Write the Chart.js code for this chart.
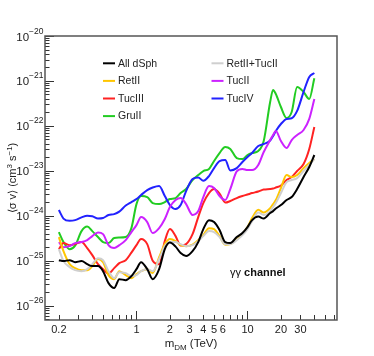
<!DOCTYPE html>
<html>
<head>
<meta charset="utf-8">
<script src="https://cdn.jsdelivr.net/npm/chart.js@4/dist/chart.umd.min.js"></script>
<style>
  body { margin: 0; background: #fff; }
  canvas { display: block; }
</style>
</head>
<body>
<canvas id="limits" width="374" height="356"></canvas>
<script>
// DM mass grid (TeV), shared by all curves
const masses = [0.2, 0.22, 0.25, 0.28, 0.32, 0.36, 0.4, 0.45, 0.5, 0.56,
  0.63, 0.7, 0.8, 0.9, 1.0, 1.1, 1.25, 1.4, 1.6, 1.8,
  2.0, 2.25, 2.5, 2.8, 3.2, 3.6, 4.0, 4.5, 5.0, 5.6,
  6.3, 7.0, 8.0, 9.0, 10, 11, 12.5, 14, 16, 17,
  18, 20, 22.5, 25, 28, 32, 36, 40];

// <sigma v> upper limits (cm^3 s^-1)
const allDsph = [1.03e-25, 9.8e-26, 1.03e-25, 9.3e-26, 9.8e-26, 8.4e-26, 7.6e-26, 7.6e-26, 5.86e-26, 3.17e-26,
  2.46e-26, 3.89e-26, 3.7e-26, 4.54e-26, 6.5e-26, 9.3e-26, 6.5e-26, 3.89e-26, 6.5e-26, 1.81e-25,
  2.53e-25, 2.06e-25, 1.48e-25, 1.27e-25, 1.64e-25, 2.6e-25, 5.06e-25, 8.0e-25, 7.24e-25, 4.81e-25,
  2.6e-25, 2.47e-25, 3.36e-25, 4.12e-25, 5.6e-25, 8.0e-25, 9.6e-25, 8.67e-25, 1.15e-24, 1.27e-24,
  1.45e-24, 1.73e-24, 2.24e-24, 2.61e-24, 3.94e-24, 7.28e-24, 1.22e-23, 2.25e-23];
const retTuc = [1.81e-25, 9.8e-26, 7.2e-26, 6.17e-26, 5.86e-26, 6.5e-26, 8.4e-26, 1.14e-25, 1.03e-25, 5.86e-26,
  4.1e-26, 5.57e-26, 5.3e-26, 4.54e-26, 4.78e-26, 5.86e-26, 6.5e-26, 5.86e-26, 1.09e-25, 2.11e-25,
  2.6e-25, 2.6e-25, 2.34e-25, 2.11e-25, 2.22e-25, 2.73e-25, 3.53e-25, 4.56e-25, 4.33e-25, 3.36e-25,
  2.34e-25, 2.34e-25, 2.88e-25, 3.72e-25, 5.06e-25, 7.62e-25, 1.18e-24, 1.04e-24, 1.27e-24, 1.56e-24,
  1.92e-24, 3.2e-24, 5.63e-24, 6.24e-24, 6.9e-24, 9.9e-24, 1.35e-23, 1.83e-23];
const retII = [3.36e-25, 1.64e-25, 8.4e-26, 6.84e-26, 6.17e-26, 6.17e-26, 7.6e-26, 1.09e-25, 9.3e-26, 4.78e-26,
  3.89e-26, 5.86e-26, 4.78e-26, 4.1e-26, 5.02e-26, 5.86e-26, 6.5e-26, 5.3e-26, 1.2e-25, 2.34e-25,
  3.03e-25, 2.73e-25, 2.22e-25, 2.11e-25, 2.28e-25, 2.88e-25, 3.72e-25, 5.3e-25, 5.06e-25, 3.53e-25,
  2.28e-25, 2.34e-25, 3.03e-25, 3.9e-25, 5.6e-25, 8.9e-25, 1.37e-24, 1.18e-24, 1.48e-24, 1.82e-24,
  2.24e-24, 4.14e-24, 8.06e-24, 7.28e-24, 8.06e-24, 1.15e-23, 1.49e-23, 1.83e-23];
const tucII = [2.6e-25, 2.0e-25, 2.11e-25, 2.47e-25, 2.6e-25, 2.88e-25, 3.53e-25, 4.27e-25, 3.9e-25, 2.22e-25,
  1.91e-25, 2.22e-25, 2.88e-25, 4.33e-25, 6.2e-25, 9.35e-25, 7.24e-25, 4.12e-25, 5.3e-25, 8.45e-25,
  1.56e-24, 2.24e-24, 2.48e-24, 1.82e-24, 1.04e-24, 1.27e-24, 2.61e-24, 4.58e-24, 4.14e-24, 2.75e-24,
  2.24e-24, 3.94e-24, 9.7e-24, 1.1e-23, 1.04e-23, 1.04e-23, 1.35e-23, 2.62e-23, 4.85e-23, 6.27e-23,
  7.7e-23, 4.61e-23, 3.22e-23, 4.85e-23, 6.27e-23, 8.1e-23, 1.43e-22, 3.97e-22];
const tucIII = [1.81e-25, 2.47e-25, 2.22e-25, 2.34e-25, 2.6e-25, 1.91e-25, 1.33e-25, 8.4e-26, 6.5e-26, 5.16e-26,
  6.84e-26, 8.83e-26, 1.03e-25, 1.51e-25, 2.22e-25, 3.03e-25, 2.34e-25, 1.0e-25, 8.4e-26, 2.73e-25,
  5.06e-25, 3.53e-25, 2.17e-25, 2.34e-25, 3.9e-25, 9.35e-25, 1.92e-24, 3.2e-24, 3.94e-24, 3.12e-24,
  1.97e-24, 2.13e-24, 2.48e-24, 2.75e-24, 2.97e-24, 3.2e-24, 3.46e-24, 3.83e-24, 3.94e-24, 4.04e-24,
  4.25e-24, 4.7e-24, 6.24e-24, 7.28e-24, 9.9e-24, 1.42e-23, 3.06e-23, 9.46e-23];
const tucIV = [1.34e-24, 8.67e-25, 7.74e-25, 8.0e-25, 9.2e-25, 1.0e-24, 9.8e-25, 8.67e-25, 8.9e-25, 1.04e-24,
  1.09e-24, 1.24e-24, 1.69e-24, 2.02e-24, 2.36e-24, 2.89e-24, 3.73e-24, 4.25e-24, 4.58e-24, 2.75e-24,
  1.73e-24, 1.41e-24, 1.73e-24, 3.55e-24, 6.56e-24, 7.1e-24, 6.02e-24, 7.66e-24, 1.15e-23, 1.65e-23,
  1.74e-23, 1.02e-23, 1.15e-23, 1.57e-23, 2.03e-23, 2.49e-23, 3.57e-23, 3.95e-23, 4.73e-23, 5.96e-23,
  7.7e-23, 1.1e-22, 1.43e-22, 1.48e-22, 2.15e-22, 5.7e-22, 1.23e-21, 1.5e-21];
const gruII = [4.33e-25, 2.6e-25, 1.81e-25, 2.17e-25, 4.56e-25, 5.75e-25, 4.56e-25, 3.36e-25, 2.6e-25, 2.47e-25,
  3.19e-25, 3.27e-25, 3.36e-25, 5.3e-25, 1.82e-24, 2.75e-24, 2.61e-24, 1.92e-24, 1.82e-24, 2.02e-24,
  2.36e-24, 2.48e-24, 3.2e-24, 3.94e-24, 6.24e-24, 8.06e-24, 9.9e-24, 1.1e-23, 1.65e-23, 2.49e-23,
  3.39e-23, 3.06e-23, 1.93e-23, 1.83e-23, 2.25e-23, 2.49e-23, 2.76e-23, 4.61e-23, 3.4e-22, 6.3e-22,
  5.13e-22, 2.63e-22, 1.5e-22, 2.04e-22, 7.35e-22, 5.69e-22, 3.97e-22, 1.15e-21];

// legend order (row by row, two columns)
const seriesNames = ["All dSph", "RetII+TucII", "RetII", "TucII", "TucIII", "TucIV", "GruII"];
const seriesValues = [allDsph, retTuc, retII, tucII, tucIII, tucIV, gruII];
const seriesColors = ["#000000", "#cfcfcf", "#ffc600", "#cc22ff", "#ff2222", "#2222ff", "#22cc22"];

// axis ticks
const xTickLabels = [0.2, 1, 2, 3, 4, 5, 6, 10, 20, 30];
const xMinorTicks = [0.3, 0.4, 0.5, 0.6, 0.7, 0.8, 0.9, 7, 8, 9, 40, 50, 60];
const xDecades = [1, 10];
const yExponents = [-26, -25, -24, -23, -22, -21, -20];

const FONT = '"Liberation Sans", Arial, Helvetica, sans-serif';

// draw text pieces one after another, sizes/offsets per piece
function textParts(ctx, parts, x, y, measureOnly) {
  let w = 0;
  parts.forEach((p) => {
    ctx.font = (p.bold ? "bold " : "") + p.size + "px " + FONT;
    if (!measureOnly) ctx.fillText(p.t, x + w, y + (p.dy || 0));
    w += ctx.measureText(p.t).width;
  });
  return w;
}

const rootStyle = {
  id: "rootStyle",
  afterDraw(chart) {
    const ctx = chart.ctx;
    const { left, right, top, bottom } = chart.chartArea;
    const xs = chart.scales.x;
    const ys = chart.scales.y;
    ctx.save();

    // ticks pointing inside the frame
    ctx.strokeStyle = "#333";
    ctx.lineWidth = 1;
    ctx.beginPath();
    yExponents.forEach((e) => {
      const y = Math.round(ys.getPixelForValue(Math.pow(10, e))) + 0.5;
      ctx.moveTo(left, y);
      ctx.lineTo(left + 9, y);
    });
    for (let e = -27; e < -20; e++) {
      for (let k = 2; k <= 9; k++) {
        const v = k * Math.pow(10, e);
        if (v < ys.min || v > ys.max) continue;
        const y = Math.round(ys.getPixelForValue(v)) + 0.5;
        ctx.moveTo(left, y);
        ctx.lineTo(left + 4.5, y);
      }
    }
    xTickLabels.concat(xMinorTicks).forEach((v) => {
      const x = Math.round(xs.getPixelForValue(v)) + 0.5;
      const len = xDecades.includes(v) ? 9 : 5;
      ctx.moveTo(x, bottom);
      ctx.lineTo(x, bottom - len);
    });
    ctx.stroke();

    // frame
    ctx.strokeStyle = "#555";
    ctx.lineWidth = 1.5;
    ctx.strokeRect(left, top, right - left, bottom - top);

    // y tick labels 10^n
    ctx.fillStyle = "#222";
    ctx.textBaseline = "alphabetic";
    ctx.textAlign = "left";
    yExponents.forEach((e) => {
      const y = ys.getPixelForValue(Math.pow(10, e));
      const expParts = [{ t: "\u2212" + Math.abs(e), size: 8.5 }];
      const we = textParts(ctx, expParts, 0, 0, true);
      ctx.font = "11.5px " + FONT;
      const wb = ctx.measureText("10").width;
      const xEnd = 43.5;
      ctx.fillText("10", xEnd - we - wb, y + 4.5);
      textParts(ctx, expParts, xEnd - we, y - 2.5);
    });

    // x tick labels
    ctx.textAlign = "center";
    ctx.font = "11px " + FONT;
    xTickLabels.forEach((v) => {
      ctx.fillText(String(v), xs.getPixelForValue(v), bottom + 13);
    });
    ctx.textAlign = "left";

    // x title
    const xTitle = [
      { t: "m", size: 11.5 },
      { t: "DM", size: 8, dy: 3 },
      { t: " (TeV)", size: 11.5 },
    ];
    const wx = textParts(ctx, xTitle, 0, 0, true);
    textParts(ctx, xTitle, (left + right) / 2 - wx / 2, 347);

    // y title, rotated
    const yTitle = [
      { t: "\u27E8\u03C3 v\u27E9 (cm", size: 11 },
      { t: "3", size: 8, dy: -4.5 },
      { t: " s", size: 11 },
      { t: "\u22121", size: 8, dy: -4.5 },
      { t: ")", size: 11 },
    ];
    const wy = textParts(ctx, yTitle, 0, 0, true);
    ctx.save();
    ctx.translate(16, (top + bottom) / 2);
    ctx.rotate(-Math.PI / 2);
    textParts(ctx, yTitle, -wy / 2, 0);
    ctx.restore();

    // legend in two columns
    const colX = [103, 211.5];
    const rowY = [63.3, 80.9, 98.5, 116.1];
    ctx.textBaseline = "middle";
    chart.data.datasets.forEach((ds, i) => {
      const cx = colX[i % 2];
      const cy = rowY[Math.floor(i / 2)];
      ctx.strokeStyle = ds.borderColor;
      ctx.lineWidth = 2;
      ctx.beginPath();
      ctx.moveTo(cx, cy);
      ctx.lineTo(cx + 12, cy);
      ctx.stroke();
      ctx.fillStyle = "#222";
      ctx.font = "10.5px " + FONT;
      ctx.fillText(ds.label, cx + 15, cy + 0.5);
    });

    // channel label
    ctx.textBaseline = "alphabetic";
    ctx.fillStyle = "#111";
    textParts(ctx, [
      { t: "\u03B3\u03B3 ", size: 11 },
      { t: "channel", size: 11, bold: true },
    ], 230, 275.5);

    ctx.restore();
  },
};

const datasets = seriesNames.map((name, i) => ({
  label: name,
  data: masses.map((m, j) => ({ x: m, y: seriesValues[i][j] })),
  borderColor: seriesColors[i],
  borderWidth: 2,
  pointRadius: 0,
  fill: false,
  cubicInterpolationMode: "monotone",
}));

new Chart(document.getElementById("limits"), {
  type: "line",
  data: { datasets: datasets },
  options: {
    responsive: false,
    animation: false,
    devicePixelRatio: 1,
    layout: { padding: { left: 45, right: 37, top: 36, bottom: 36 } },
    plugins: { legend: { display: false }, tooltip: { enabled: false } },
    scales: {
      x: {
        type: "logarithmic",
        display: false,
        min: 0.15,
        max: 64,
        bounds: "data",
      },
      y: {
        type: "logarithmic",
        display: false,
        min: 4.8e-27,
        max: 1e-20,
        bounds: "data",
      },
    },
  },
  plugins: [rootStyle],
});
</script>
</body>
</html>
